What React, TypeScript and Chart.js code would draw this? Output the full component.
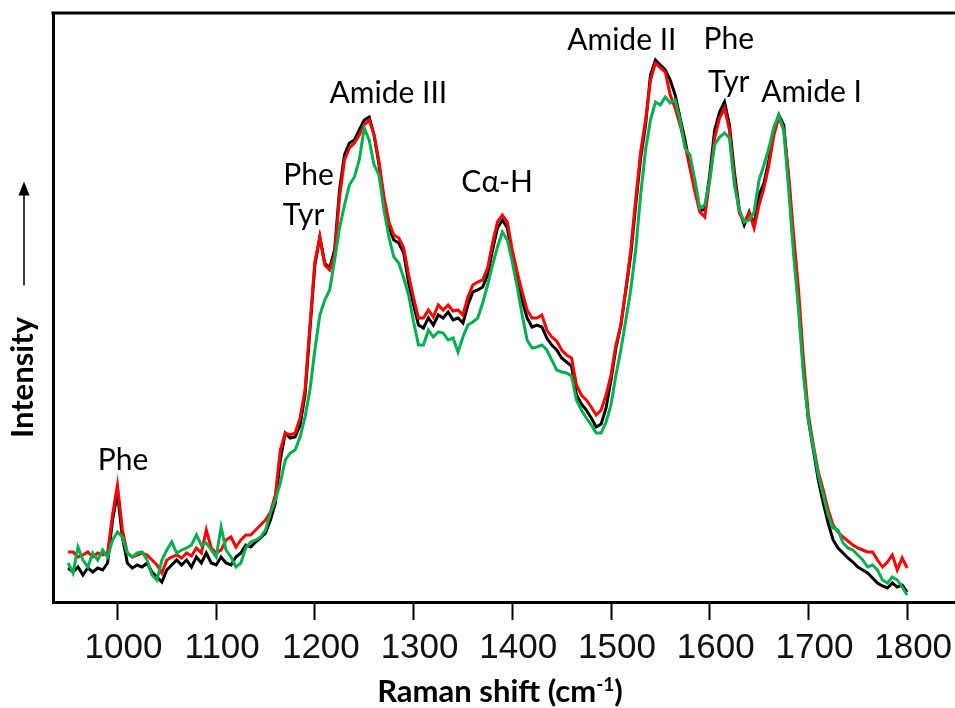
import React, { useEffect, useRef } from 'react';
import { Chart, registerables } from 'chart.js';

Chart.register(...registerables);

// Raman shift sampling (cm-1)
const RAMAN_SHIFT = [
  950, 955, 960, 965, 970, 975, 980, 985, 990, 995,
  1000, 1005, 1010, 1015, 1020, 1025, 1030, 1035, 1040, 1045,
  1050, 1055, 1060, 1065, 1070, 1075, 1080, 1085, 1090, 1095,
  1100, 1105, 1110, 1115, 1120, 1125, 1130, 1135, 1140, 1145,
  1150, 1155, 1160, 1165, 1170, 1175, 1180, 1185, 1190, 1195,
  1200, 1205, 1210, 1215, 1220, 1225, 1230, 1235, 1240, 1245,
  1250, 1255, 1260, 1265, 1270, 1275, 1280, 1285, 1290, 1295,
  1300, 1305, 1310, 1315, 1320, 1325, 1330, 1335, 1340, 1345,
  1350, 1355, 1360, 1365, 1370, 1375, 1380, 1385, 1390, 1395,
  1400, 1405, 1410, 1415, 1420, 1425, 1430, 1435, 1440, 1445,
  1450, 1455, 1460, 1465, 1470, 1475, 1480, 1485, 1490, 1495,
  1500, 1505, 1510, 1515, 1520, 1525, 1530, 1535, 1540, 1545,
  1550, 1555, 1560, 1565, 1570, 1575, 1580, 1585, 1590, 1595,
  1600, 1605, 1610, 1615, 1620, 1625, 1630, 1635, 1640, 1645,
  1650, 1655, 1660, 1665, 1670, 1675, 1680, 1685, 1690, 1695,
  1700, 1705, 1710, 1715, 1720, 1725, 1730, 1735, 1740, 1745,
  1750, 1755, 1760, 1765, 1770, 1775, 1780, 1785, 1790, 1795,
  1800,
];

// Intensity (arbitrary units)
const BLACK_SPECTRUM = [
  32, 28, 33, 25, 32, 28, 32, 30, 37, 80,
  107, 63, 37, 32, 35, 33, 37, 28, 23, 18,
  30, 35, 40, 35, 40, 33, 43, 37, 47, 37,
  35, 43, 37, 35, 43, 47, 55, 53, 58, 62,
  67, 80, 97, 140, 167, 162, 163, 175, 205, 270,
  335, 363, 337, 332, 350, 410, 445, 457, 460, 470,
  480, 483, 465, 435, 400, 373, 360, 357, 347, 317,
  295, 275, 272, 282, 275, 285, 282, 288, 280, 282,
  277, 295, 308, 310, 313, 325, 350, 372, 380, 372,
  345, 320, 300, 282, 273, 275, 273, 262, 255, 250,
  242, 238, 234, 205, 196, 190, 182, 173, 176, 192,
  220, 252, 275, 310, 345, 395, 442, 475, 525, 540,
  535, 530, 520, 505, 482, 460, 433, 412, 390, 390,
  425, 470, 488, 498, 475, 428, 390, 375, 388, 375,
  405, 417, 440, 470, 485, 475, 420, 355, 300, 230,
  180, 150, 120, 97, 77, 60, 52, 47, 42, 38,
  33, 30, 27, 22, 17, 14, 12, 17, 13, 15,
  8,
];

const RED_SPECTRUM = [
  48, 48, 43, 45, 48, 43, 47, 45, 47, 85,
  115, 70, 47, 43, 45, 47, 45, 40, 35, 27,
  40, 43, 45, 42, 47, 44, 52, 47, 70, 52,
  47, 50, 60, 63, 53, 60, 65, 65, 70, 75,
  80, 88, 105, 150, 167, 165, 167, 182, 210, 275,
  338, 363, 335, 330, 345, 403, 440, 452, 457, 465,
  475, 480, 465, 438, 403, 378, 365, 362, 352, 325,
  302, 282, 282, 290, 283, 295, 290, 295, 289, 290,
  285, 303, 315, 318, 320, 332, 357, 378, 385, 378,
  350, 328, 308, 290, 282, 282, 285, 270, 263, 259,
  250, 245, 242, 215, 205, 200, 193, 185, 190, 205,
  225, 255, 275, 310, 350, 400, 448, 480, 520, 537,
  532, 528, 505, 492, 475, 455, 432, 408, 388, 383,
  420, 462, 482, 492, 470, 422, 387, 378, 387, 372,
  395, 412, 435, 465, 483, 470, 425, 365, 310, 240,
  185, 155, 128, 110, 90, 75, 68, 63, 59, 55,
  52, 50, 48, 48, 40, 33, 38, 45, 30, 42,
  32,
];

const GREEN_SPECTRUM = [
  37, 27, 53, 40, 33, 47, 40, 50, 43, 60,
  68, 63, 47, 43, 47, 48, 40, 25, 20, 40,
  50, 58, 47, 50, 52, 55, 65, 55, 57, 50,
  43, 73, 50, 43, 33, 37, 52, 58, 60, 63,
  70, 87, 100, 117, 140, 147, 150, 163, 183, 210,
  250, 285, 300, 310, 340, 372, 395, 415, 423, 440,
  472, 460, 435, 425, 390, 363, 343, 337, 322, 305,
  278, 255, 255, 270, 263, 268, 267, 260, 262, 248,
  263, 275, 278, 282, 297, 315, 335, 353, 368, 360,
  338, 313, 285, 260, 252, 253, 255, 250, 240, 230,
  228, 227, 224, 200, 190, 182, 175, 167, 167, 178,
  195, 225, 250, 280, 310, 350, 405, 450, 480, 498,
  495, 503, 497, 500, 480, 452, 445, 420, 392, 395,
  420, 455, 463, 467, 462, 415, 390, 378, 380, 388,
  420, 435, 452, 473, 485, 470, 410, 345, 290, 225,
  180, 152, 125, 105, 85, 72, 70, 57, 52, 50,
  45, 40, 33, 35, 30, 20, 17, 23, 20, 13,
  5,
];

const X_TICKS = [1000, 1100, 1200, 1300, 1400, 1500, 1600, 1700, 1800];
const X_MIN = 934.7;
const X_MAX = 1848.5;
const Y_MIN = -2;
const Y_MAX = 587;

// Band assignments (text, Raman shift, intensity where label sits)
const PEAK_LABELS = ['Phe', 'Phe', 'Tyr', 'Amide III', 'C\u03B1-H', 'Amide II', 'Phe', 'Tyr', 'Amide I'];
const PEAK_LABEL_SHIFT = [1005.6, 1193.6, 1188.6, 1274.5, 1384.7, 1511, 1619.3, 1619.3, 1703.2];
const PEAK_LABEL_INTENSITY = [140, 425, 385, 507, 418, 560, 561, 518, 508];

const X_TITLE = 'Raman shift (cm';
const X_TITLE_SUP = '-1';
const X_TITLE_END = ')';
const Y_TITLE = 'Intensity';

const textPlugin = {
  id: 'ramanTexts',
  afterDraw(chart: any) {
    const { ctx, chartArea, scales } = chart;
    ctx.save();
    // top frame line
    ctx.strokeStyle = '#000';
    ctx.lineWidth = 3;
    ctx.beginPath();
    ctx.moveTo(chartArea.left - 1.5, chartArea.top);
    ctx.lineTo(chartArea.right, chartArea.top);
    ctx.stroke();

    // peak labels
    ctx.fillStyle = '#000';
    ctx.font = '30px Lato';
    ctx.textAlign = 'center';
    ctx.textBaseline = 'middle';
    PEAK_LABELS.forEach((t, i) => {
      ctx.fillText(t, scales.x.getPixelForValue(PEAK_LABEL_SHIFT[i]), scales.y.getPixelForValue(PEAK_LABEL_INTENSITY[i]));
    });

    // x title with superscript
    const mainFont = 'bold 31px Lato';
    const supFont = 'bold 19px Lato';
    ctx.textAlign = 'left';
    ctx.textBaseline = 'alphabetic';
    ctx.font = mainFont;
    const w1 = ctx.measureText(X_TITLE).width;
    const w3 = ctx.measureText(X_TITLE_END).width;
    ctx.font = supFont;
    const w2 = ctx.measureText(X_TITLE_SUP).width;
    const cx = 500;
    const baseY = 702;
    const x0 = cx - (w1 + w2 + w3) / 2;
    ctx.font = mainFont;
    ctx.fillText(X_TITLE, x0, baseY);
    ctx.font = supFont;
    ctx.fillText(X_TITLE_SUP, x0 + w1, baseY - 11);
    ctx.font = mainFont;
    ctx.fillText(X_TITLE_END, x0 + w1 + w2, baseY);

    // y title and arrow
    const midY = (chartArea.top + chartArea.bottom) / 2;
    ctx.save();
    ctx.translate(33, midY + 70);
    ctx.rotate(-Math.PI / 2);
    ctx.font = 'bold 31px Lato';
    ctx.textAlign = 'center';
    ctx.textBaseline = 'alphabetic';
    ctx.fillText(Y_TITLE, 0, 0);
    ctx.restore();

    ctx.strokeStyle = '#000';
    ctx.lineWidth = 1.5;
    ctx.beginPath();
    ctx.moveTo(24, midY - 22);
    ctx.lineTo(24, midY - 114);
    ctx.stroke();
    ctx.beginPath();
    ctx.moveTo(24, midY - 126);
    ctx.lineTo(18.5, midY - 112);
    ctx.lineTo(29.5, midY - 112);
    ctx.closePath();
    ctx.fill();
    ctx.restore();
  },
};

export default function App() {
  const ref = useRef<HTMLCanvasElement>(null);
  useEffect(() => {
    document.body.style.margin = '0';
    const canvas = ref.current;
    if (!canvas) return;
    const mk = (label: string, values: number[], color: string) => ({
      label,
      data: RAMAN_SHIFT.map((x, i) => ({ x, y: values[i] })),
      borderColor: color,
      backgroundColor: color,
      borderWidth: 3,
      pointRadius: 0,
      tension: 0,
      fill: false,
    });
    const chart = new Chart(canvas, {
      type: 'line',
      data: {
        datasets: [
          mk('Green', GREEN_SPECTRUM, '#00B050'),
          mk('Red', RED_SPECTRUM, '#FF0000'),
          mk('Black', BLACK_SPECTRUM, '#000000'),
        ],
      },
      options: {
        responsive: false,
        animation: false,
        layout: { padding: { top: 13, right: 0, left: 0, bottom: 0 } },
        plugins: { legend: { display: false }, tooltip: { enabled: false } },
        scales: {
          x: {
            type: 'linear',
            min: X_MIN,
            max: X_MAX,
            afterBuildTicks: (s: any) => {
              s.ticks = X_TICKS.map((v) => ({ value: v }));
            },
            afterFit: (s: any) => {
              s.height = 106;
            },
            grid: {
              display: true,
              drawOnChartArea: false,
              drawTicks: true,
              tickLength: 18,
              tickWidth: 2,
              tickColor: '#000',
              color: '#000',
            },
            border: { display: true, color: '#000', width: 3 },
            ticks: {
              font: { family: 'Liberation Sans', size: 35 },
              color: '#111',
              labelOffset: 6,
              padding: 7,
              maxRotation: 0,
              autoSkip: false,
              callback: (v: any) => String(v),
            },
          },
          y: {
            type: 'linear',
            min: Y_MIN,
            max: Y_MAX,
            afterFit: (s: any) => {
              s.width = 53;
            },
            grid: { display: false },
            ticks: { display: false },
            border: { display: true, color: '#000', width: 3 },
          },
        },
      },
      plugins: [textPlugin],
    } as any);
    return () => chart.destroy();
  }, []);
  return <canvas ref={ref} width={955} height={708} style={{ display: 'block' }} />;
}
